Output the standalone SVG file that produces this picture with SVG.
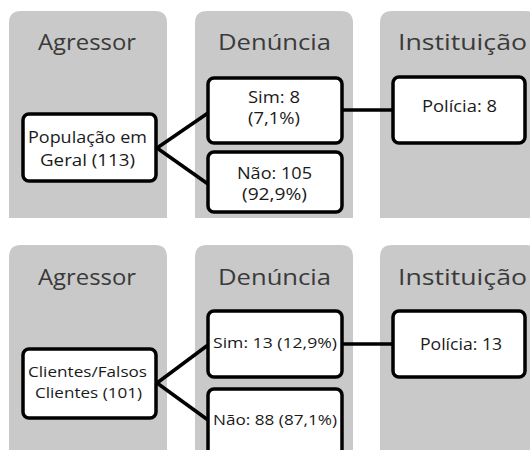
<svg xmlns="http://www.w3.org/2000/svg" width="530" height="450" viewBox="0 0 530 450">
<style>
.col{fill:#c9c9c9}
.hdr{font-family:"Open Sans","Noto Sans",sans-serif;font-size:22px;fill:#3a3a3a;text-anchor:middle}
.box{fill:#fff;stroke:#000;stroke-width:3.5}
.t{font-family:"Open Sans","Noto Sans",sans-serif;font-size:16px;fill:#1a1a1a;text-anchor:middle}
.ts{font-family:"Open Sans","Noto Sans",sans-serif;font-size:15px;fill:#1a1a1a;text-anchor:middle}
.c{stroke:#000;stroke-width:3.5;fill:none}
</style>
<rect width="530" height="450" fill="#fff"/>
<g id="lanes">
<path class="col" d="M9,218 V23 Q9,11 21,11 H155 Q167,11 167,23 V218 Z"/>
<path class="col" d="M195,218 V23 Q195,11 207,11 H341 Q353,11 353,23 V218 Z"/>
<path class="col" d="M380,218 V23 Q380,11 392,11 H526 Q538,11 538,23 V218 Z"/>
<path class="col" d="M9,450 V257 Q9,245 21,245 H155 Q167,245 167,257 V450 Z"/>
<path class="col" d="M195,450 V257 Q195,245 207,245 H341 Q353,245 353,257 V450 Z"/>
<path class="col" d="M380,450 V257 Q380,245 392,245 H526 Q538,245 538,257 V450 Z"/>
<text class="hdr" x="87" y="50" textLength="98" lengthAdjust="spacingAndGlyphs">Agressor</text>
<text class="hdr" x="274.5" y="50" textLength="113" lengthAdjust="spacingAndGlyphs">Denúncia</text>
<text class="hdr" x="462.5" y="50" textLength="129" lengthAdjust="spacingAndGlyphs">Instituição</text>
<text class="hdr" x="87" y="285" textLength="98" lengthAdjust="spacingAndGlyphs">Agressor</text>
<text class="hdr" x="274.5" y="285" textLength="113" lengthAdjust="spacingAndGlyphs">Denúncia</text>
<text class="hdr" x="462.5" y="285" textLength="129" lengthAdjust="spacingAndGlyphs">Instituição</text>
</g>
<g id="connectors">
<path class="c" d="M157,148 L208,113"/>
<path class="c" d="M157,148 L208,184"/>
<path class="c" d="M342,110 L393,110"/>
<path class="c" d="M157,383 L208,345"/>
<path class="c" d="M157,383 L208,420"/>
<path class="c" d="M342,344 L393,344"/>
</g>
<g id="n1"><rect class="box" x="23" y="114" width="133" height="67" rx="6"/>
<text class="t" x="87.5" y="143" textLength="119" lengthAdjust="spacingAndGlyphs">População em</text><text class="t" x="87.5" y="166" textLength="95" lengthAdjust="spacingAndGlyphs">Geral (113)</text></g>
<g id="n2"><rect class="box" x="208" y="78" width="134" height="65" rx="6"/>
<text class="t" x="274" y="103" textLength="52" lengthAdjust="spacingAndGlyphs">Sim: 8</text><text class="t" x="274" y="124" textLength="52" lengthAdjust="spacingAndGlyphs">(7,1%)</text></g>
<g id="n3"><rect class="box" x="208" y="152" width="134" height="60" rx="6"/>
<text class="t" x="274.5" y="179" textLength="75" lengthAdjust="spacingAndGlyphs">Não: 105</text><text class="t" x="274.5" y="200" textLength="65" lengthAdjust="spacingAndGlyphs">(92,9%)</text></g>
<g id="n4"><rect class="box" x="393" y="77" width="132" height="66" rx="6"/>
<text class="t" x="459.5" y="112" textLength="75" lengthAdjust="spacingAndGlyphs">Polícia: 8</text></g>
<g id="n5"><rect class="box" x="23" y="349" width="133" height="69" rx="6"/>
<text class="ts" x="87.5" y="377" textLength="119" lengthAdjust="spacingAndGlyphs">Clientes/Falsos</text><text class="ts" x="88.5" y="398" textLength="107" lengthAdjust="spacingAndGlyphs">Clientes (101)</text></g>
<g id="n6"><rect class="box" x="208" y="311" width="134" height="66" rx="6"/>
<text class="ts" x="275" y="348" textLength="124" lengthAdjust="spacingAndGlyphs">Sim: 13 (12,9%)</text></g>
<g id="n7"><rect class="box" x="208" y="389" width="134" height="70" rx="6"/>
<text class="ts" x="275" y="425" textLength="124" lengthAdjust="spacingAndGlyphs">Não: 88 (87,1%)</text></g>
<g id="n8"><rect class="box" x="393" y="311" width="132" height="66" rx="6"/>
<text class="t" x="461" y="350" textLength="82" lengthAdjust="spacingAndGlyphs">Polícia: 13</text></g>
</svg>
